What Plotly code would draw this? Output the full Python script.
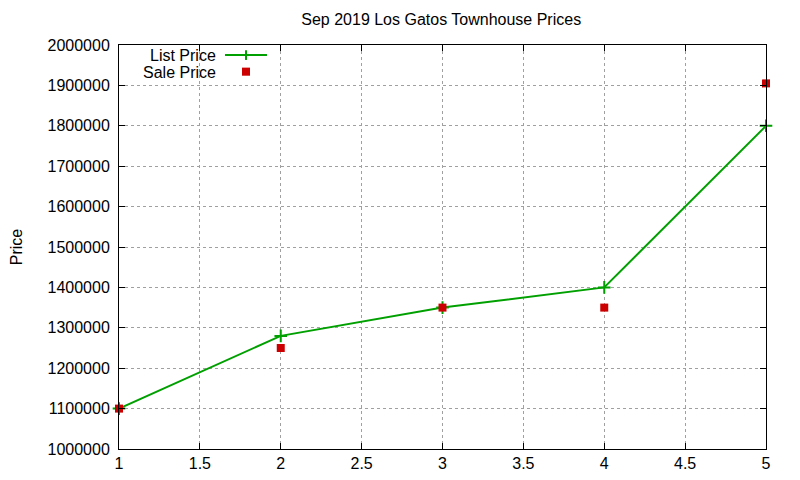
import plotly.graph_objects as go

# listing index vs price
homes = [1, 2, 3, 4, 5]
list_price = [1100000, 1280000, 1350000, 1400000, 1800000]
sale_price = [1100000, 1250000, 1350000, 1350000, 1905000]

GREEN = "#00a000"
RED = "#cc0000"
FONT = "Liberation Sans, Arial, sans-serif"

fig = go.Figure()
fig.add_trace(go.Scatter(
    x=homes, y=list_price, mode="lines+markers", name="List Price",
    line=dict(color=GREEN, width=2),
    marker=dict(symbol="cross-thin", size=9, line=dict(color=GREEN, width=2)),
    cliponaxis=False))
fig.add_trace(go.Scatter(
    x=homes, y=sale_price, mode="markers", name="Sale Price",
    marker=dict(symbol="square", size=8, color=RED),
    cliponaxis=False))

axis_common = dict(
    showline=True, linecolor="black", linewidth=1, mirror="ticks",
    ticks="inside", ticklen=6, tickcolor="black", automargin=False,
    showgrid=True, gridcolor="#a0a0a0", griddash="dot", gridwidth=1,
    zeroline=False, tickfont=dict(size=16, color="black", family=FONT),
)

fig.update_xaxes(range=[1, 5], dtick=0.5, tick0=1, **axis_common)
fig.update_yaxes(range=[1000000, 2000000], dtick=100000, tickformat="d",
                 ticklabelstandoff=5,
                 title=dict(text="Price", font=dict(size=16, family=FONT), standoff=32),
                 **axis_common)

# gnuplot-style key: text on the left, sample on the right
fig.add_annotation(x=0.1515, y=0.975, xref="paper", yref="paper", text="List Price",
                   showarrow=False, xanchor="right", yanchor="middle", borderpad=0,
                   font=dict(size=16, family=FONT, color="black"))
fig.add_annotation(x=0.1515, y=0.933, xref="paper", yref="paper", text="Sale Price",
                   showarrow=False, xanchor="right", yanchor="middle", borderpad=0,
                   font=dict(size=16, family=FONT, color="black"))
fig.add_shape(type="line", xref="paper", yref="paper", x0=0.1638, x1=0.2287,
              y0=0.975, y1=0.975, line=dict(color=GREEN, width=2))
fig.add_shape(type="line", xref="paper", yref="paper", x0=0.1963, x1=0.1963,
              y0=0.963, y1=0.987, line=dict(color=GREEN, width=2))
fig.add_shape(type="rect", xref="paper", yref="paper", x0=0.1901, x1=0.2025,
              y0=0.924, y1=0.944, line=dict(width=0), fillcolor=RED)

# page body adds an 8px margin, so the figure is 792x472 and offset
fig.update_layout(
    width=792, height=472,
    margin=dict(l=111, r=34, t=37, b=31),
    paper_bgcolor="white", plot_bgcolor="white",
    showlegend=False,
    title=dict(text="Sep 2019 Los Gatos Townhouse Prices", x=0.547, xanchor="center",
               y=0.975, yanchor="middle",
               font=dict(size=16, family=FONT, color="black")),
    font=dict(family=FONT, color="black"),
)

fig.write_html("out.html")
